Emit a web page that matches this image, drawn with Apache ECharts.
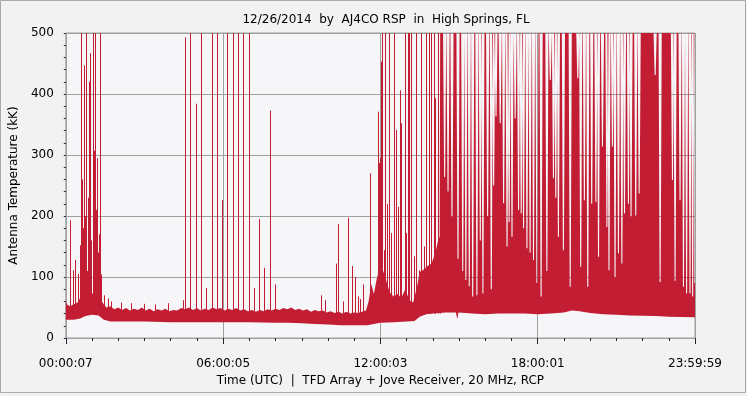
<!DOCTYPE html>
<html>
<head>
<meta charset="utf-8">
<script src="https://cdn.jsdelivr.net/npm/echarts@6/dist/echarts.min.js"></script>
<style>
html,body{margin:0;padding:0;background:#f2f2f2;}
#chart{width:747px;height:396px;}
</style>
</head>
<body>
<div id="chart"></div>
<script>
// ---------- text ----------
const titleText = '12/26/2014  by  AJ4CO RSP  in  High Springs, FL';
const yAxisName = 'Antenna Temperature (kK)';
const xAxisName = 'Time (UTC)  |  TFD Array + Jove Receiver, 20 MHz, RCP';
const xTickLabels = ['00:00:07', '06:00:05', '12:00:03', '18:00:01', '23:59:59'];

// ---------- data (time in hours UTC, temperature in kK) ----------
// lower edge of the noise band
const lowT = [0, 0.3, 0.55, 0.75, 1.0, 1.25, 1.45, 1.7, 2, 3,
  4, 5, 6, 7, 8, 8.5, 9, 9.5, 10, 10.5,
  11, 11.5, 12, 12.5, 13, 13.3, 13.5, 13.75, 14, 14.5,
  14.88, 14.93, 14.98, 15.5, 16, 16.5, 17, 17.5, 18, 18.5,
  19, 19.3, 19.6, 20, 20.5, 21, 21.5, 22, 22.5, 23,
  23.5, 24];
const lowV = [30, 30, 32, 36, 38, 37, 30, 27, 27, 27,
  26, 26, 26, 26, 25, 25, 24, 23, 22, 21,
  21, 21, 25, 26, 27, 28, 35, 39, 40, 42,
  42, 31, 42, 40, 39, 40, 40, 40, 39, 40,
  42, 45, 44, 41, 39, 38, 37, 36.5, 36, 35,
  34.5, 34];

// upper edge of the noise band (before the dense storm)
const bandTopT = [0, 0.05, 0.15, 0.25, 0.35, 0.45, 0.55, 0.65, 0.75, 0.85,
  0.95, 1.05, 1.15, 1.25, 1.35, 1.45, 1.55, 1.7, 1.85, 2.0,
  2.15, 2.3, 2.45, 2.6, 2.75, 2.9, 3.05, 3.2, 3.35, 3.5,
  3.65, 3.8, 3.95, 4.1, 4.25, 4.4, 4.55, 4.7, 4.85, 5.0,
  5.15, 5.3, 5.45, 5.6, 5.75, 5.9, 6.05, 6.2, 6.35, 6.5,
  6.65, 6.8, 6.95, 7.1, 7.25, 7.4, 7.55, 7.7, 7.85, 8.0,
  8.15, 8.3, 8.45, 8.6, 8.75, 8.9, 9.05, 9.2, 9.35, 9.5,
  9.65, 9.8, 9.95, 10.1, 10.25, 10.4, 10.55, 10.7, 10.85, 11.0,
  11.15, 11.3, 11.45, 11.55, 11.65, 11.75, 11.85, 11.95, 12.05, 12.15,
  12.25, 12.35, 12.5, 12.65, 12.8, 12.95, 13.1, 13.25, 13.4, 13.5,
  13.65, 13.8, 13.95, 14.1, 14.2, 14.26, 14.28];
const bandTopV = [62, 55, 52, 54, 56, 58, 66, 70, 72, 75,
  70, 74, 72, 68, 62, 55, 50, 52, 47, 50,
  46, 49, 45, 48, 46, 50, 45, 48, 44, 47,
  45, 48, 44, 46, 45, 49, 47, 50, 46, 49,
  45, 48, 46, 50, 47, 49, 45, 48, 46, 49,
  45, 47, 44, 46, 43, 46, 44, 47, 45, 48,
  46, 49, 47, 50, 46, 48, 45, 47, 43, 46,
  44, 45, 42, 44, 41, 43, 40, 43, 40, 42,
  41, 43, 45, 60, 88, 72, 95, 112, 115, 105,
  90, 75, 68, 72, 66, 80, 62, 58, 85, 108,
  112, 118, 122, 140, 160, 166, 500];

// storm period: signal saturated (>= 500) except at these dips
const dipT = [14.45, 14.58, 14.73, 14.96, 15.14, 15.26, 15.39, 15.52, 15.68, 15.81,
  15.91, 16.09, 16.23, 16.32, 16.41, 16.57, 16.70, 16.83, 16.91, 17.02,
  17.14, 17.27, 17.37, 17.46, 17.59, 17.71, 17.84, 17.97, 18.13, 18.35,
  18.48, 18.60, 18.69, 18.79, 18.98, 19.24, 19.53, 19.64, 19.78, 19.91,
  20.06, 20.22, 20.32, 20.47, 20.64, 20.72, 20.85, 20.95, 21.08, 21.21,
  21.31, 21.46, 21.56, 21.74, 21.87, 22.48, 22.67, 23.14, 23.24, 23.43,
  23.56, 23.68, 23.81, 23.91];
const dipV = [264, 240, 199, 130, 110, 95, 85, 68, 70, 160,
  73, 200, 80, 250, 363, 352, 221, 150, 190, 166,
  360, 210, 204, 180, 147, 140, 128, 90, 68, 110,
  423, 262, 230, 166, 144, 84, 426, 117, 226, 84,
  220, 223, 133, 314, 182, 111, 314, 100, 139, 122,
  204, 220, 199, 201, 237, 431, 92, 259, 94, 226,
  84, 73, 73, 68];
const tailT = [23.95, 23.97, 24.0];
const tailV = [500, 90, 90];

// isolated bursts
const spikeT = [0.16, 0.26, 0.35, 0.45, 0.53, 0.58, 0.62, 0.65, 0.70, 0.74,
  0.77, 0.80, 0.83, 0.86, 0.90, 0.93, 0.98, 1.04, 1.06, 1.08,
  1.10, 1.14, 1.19, 1.24, 1.27, 1.31, 1.36, 1.45, 1.6, 1.72,
  2.1, 2.5, 3.0, 3.4, 3.9,
  4.48, 4.54, 4.73, 4.96, 5.15, 5.36, 5.58, 5.77, 5.95, 6.14,
  6.37, 6.56, 6.75, 6.98, 7.17, 7.36, 7.55, 7.78, 7.97,
  9.74, 9.89, 10.31, 10.37, 10.58, 10.75, 10.91, 11.05, 11.14, 11.21,
  11.33, 11.59, 11.89, 11.94, 11.97, 12.03, 12.08, 12.13, 12.18, 12.25,
  12.33, 12.39, 12.51, 12.58, 12.66, 12.74, 12.79, 12.93, 12.98, 13.05,
  13.10, 13.18, 13.28, 13.37, 13.46, 13.56, 13.65, 13.75, 13.84, 13.93,
  14.03, 14.10, 14.18, 14.26];
const spikeV = [193, 111, 128, 105, 152, 500, 260, 180, 447, 200,
  500, 110, 130, 230, 420, 467, 160, 500, 120, 307,
  500, 210, 295, 140, 170, 500, 104, 70, 65, 60,
  58, 57, 56, 55, 57,
  62, 493, 500, 384, 500, 82, 500, 500, 226, 500,
  500, 500, 500, 500, 82, 195, 115, 373, 88,
  70, 62, 122, 187, 60, 197, 118, 100, 68, 64,
  88, 270, 371, 287, 295, 453, 500, 144, 500, 220,
  500, 172, 500, 341, 215, 406, 352, 500, 172, 500,
  500, 500, 134, 500, 111, 500, 150, 500, 500, 500,
  500, 393, 500, 210];

// ---------- styling constants ----------
const RED = '#c31d33';
const FONT = 'DejaVu Sans';
const Y_MAX = 500;
const DIP_OUT = 0.06;    // half width of a dip at the ceiling (hours)
const DIP_IN = 0.02;     // half width of a dip at its bottom (hours)
const SPIKE_BASE = 40;

// ---------- build series data ----------
const topPts = bandTopT.map((t, i) => [t, bandTopV[i]]);
dipT.forEach((t, i) => {
  topPts.push([t - DIP_OUT, Y_MAX], [t - DIP_IN, dipV[i]], [t + DIP_IN, dipV[i]], [t + DIP_OUT, Y_MAX]);
});
tailT.forEach((t, i) => topPts.push([t, tailV[i]]));
const lowPts = lowT.map((t, i) => [t, lowV[i]]);
const spikes = spikeT.map((t, i) => [t, spikeV[i]]);

const chart = echarts.init(document.getElementById('chart'), null, {renderer: 'canvas'});
chart.setOption({
  animation: false,
  backgroundColor: '#f2f2f2',
  textStyle: {fontFamily: FONT},
  title: {
    text: titleText, left: 381, top: 9, textAlign: 'center',
    textStyle: {fontFamily: FONT, fontSize: 12, fontWeight: 'normal', color: '#000'}
  },
  graphic: [{
    type: 'rect', silent: true, z: 100,
    shape: {x: 0.5, y: 0.5, width: 745, height: 392},
    style: {fill: null, stroke: '#a9a9a9', lineWidth: 1}
  }],
  grid: {
    left: 65, right: 52, top: 33, bottom: 58,
    show: true, backgroundColor: '#f6f6f8', borderColor: '#a0a0a0', borderWidth: 1
  },
  xAxis: {
    type: 'value', min: 0, max: 24, interval: 6, offset: 4,
    axisLine: {show: false},
    axisTick: {show: true, length: 6, lineStyle: {color: '#223', width: 1}},
    minorTick: {show: true, splitNumber: 6, length: 3, lineStyle: {color: '#223', width: 1}},
    minorSplitLine: {show: false},
    splitLine: {show: true, lineStyle: {color: '#a0a0a0', width: 1}},
    axisLabel: {
      margin: 16, color: '#000', fontSize: 12, fontFamily: FONT,
      formatter: v => xTickLabels[Math.round(v / 6)]
    },
    name: xAxisName, nameLocation: 'middle', nameGap: 31,
    nameTextStyle: {color: '#000', fontSize: 12, fontFamily: FONT}
  },
  yAxis: {
    type: 'value', min: 0, max: Y_MAX, interval: 100, offset: 5,
    axisLine: {show: false},
    axisTick: {show: true, length: 2, lineStyle: {color: '#223'}},
    minorTick: {show: true, splitNumber: 5, length: 2, lineStyle: {color: '#223'}},
    splitLine: {show: true, lineStyle: {color: '#a0a0a0', width: 1}},
    axisLabel: {margin: 7, color: '#000', fontSize: 12, fontFamily: FONT},
    name: yAxisName, nameLocation: 'middle', nameGap: 29,
    nameTextStyle: {color: '#000', fontSize: 12, fontFamily: FONT}
  },
  series: [
    {
      name: 'band', type: 'custom', clip: true, silent: true,
      data: topPts,
      encode: {x: 0, y: 1},
      renderItem: function (params, api) {
        if (params.dataIndex !== 0) return null;
        const pts = topPts.map(p => api.coord(p))
          .concat(lowPts.slice().reverse().map(p => api.coord(p)));
        return {type: 'polygon', shape: {points: pts}, style: {fill: RED, stroke: null}};
      }
    },
    {
      name: 'bursts', type: 'custom', clip: true, silent: true,
      data: spikes,
      encode: {x: 0, y: 1},
      renderItem: function (params, api) {
        const a = api.coord([api.value(0), SPIKE_BASE]);
        const b = api.coord([api.value(0), api.value(1)]);
        const x = Math.round(a[0]) + 0.5;
        return {
          type: 'line',
          shape: {x1: x, y1: a[1], x2: x, y2: b[1]},
          style: {stroke: RED, lineWidth: 1}
        };
      }
    }
  ]
});
</script>
</body>
</html>
